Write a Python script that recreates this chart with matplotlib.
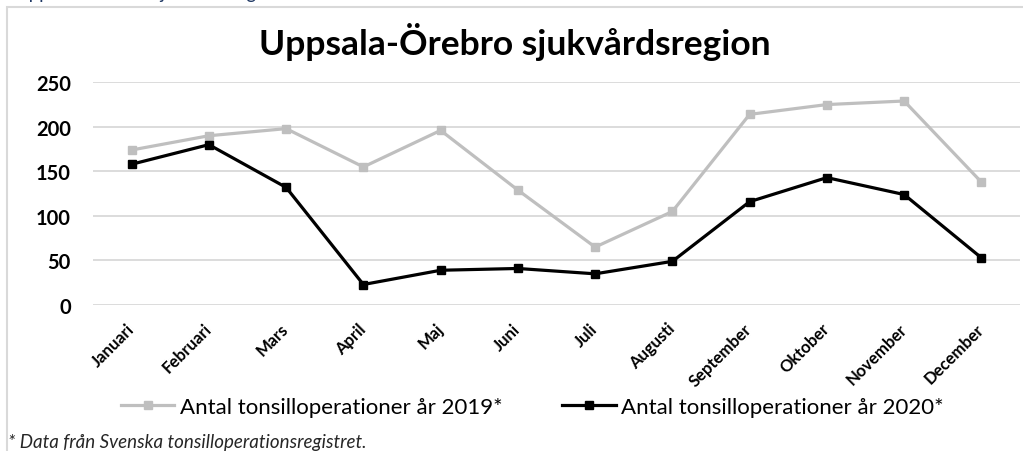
import matplotlib.pyplot as plt
from matplotlib.patches import Rectangle

plt.rcParams['font.family'] = ['Lato', 'DejaVu Sans']

# Monthly counts
months = ['Januari', 'Februari', 'Mars', 'April', 'Maj', 'Juni', 'Juli',
          'Augusti', 'September', 'Oktober', 'November', 'December']
ops_2019 = [174, 190, 198, 155, 196, 129, 65, 105, 214, 225, 229, 138]
ops_2020 = [158, 180, 132, 23, 39, 41, 35, 49, 116, 143, 124, 53]
y_ticks = [0, 50, 100, 150, 200, 250]

fig = plt.figure(figsize=(10.23, 4.52), dpi=100)

# chart frame border (runs off the right and bottom edge)
fig.patches.append(Rectangle((7 / 1023, -0.1), 1.2, 1 - 8 / 452 + 0.1,
                             transform=fig.transFigure, fill=False,
                             edgecolor='#d9d9d9', linewidth=1.5))

# clipped heading above the chart
fig.text(15 / 1023, 1 + 1 / 452, 'Uppsala-Örebro sjukvårdsregion', color='#1f3864',
         fontsize=13.5, va='baseline', ha='left')

ax = fig.add_axes([93 / 1023, 1 - 306 / 452, 927 / 1023, 222.7 / 452])
x = range(len(months))
ax.plot(x, ops_2019, color='#bfbfbf', linewidth=2.3, marker='s', markersize=5.5,
        label='Antal tonsilloperationer år 2019*')
ax.plot(x, ops_2020, color='black', linewidth=2.3, marker='s', markersize=5.5,
        label='Antal tonsilloperationer år 2020*')

ax.set_xlim(-0.5, len(months) - 0.5)
ax.set_ylim(0, 250)
ax.set_yticks(y_ticks)
ax.set_yticklabels([str(v) for v in y_ticks], fontsize=14.5, fontweight='bold')
ax.set_xticks(list(x))
ax.set_xticklabels(months, rotation=45, ha='right', va='center', rotation_mode='anchor',
                   fontsize=12, fontweight='bold')
ax.tick_params(axis='both', length=0)
ax.tick_params(axis='y', pad=16)
ax.tick_params(axis='x', pad=15)
ax.grid(axis='y', color='#d9d9d9', linewidth=1.3)
ax.set_axisbelow(True)
for s in ax.spines.values():
    s.set_visible(False)

fig.text(515 / 1023, 1 - 42 / 452, 'Uppsala-Örebro sjukvårdsregion', fontsize=25.5,
         fontweight='bold', ha='center', va='center')

ax.legend(loc='center', bbox_to_anchor=(0.474, -(408 - 306) / 222.7),
          bbox_transform=ax.transAxes, ncol=2, frameon=False, fontsize=16,
          handlelength=2.4, handletextpad=0.25, columnspacing=2.7)

fig.text(8 / 1023, 1 - 443 / 452, '* Data från Svenska tonsilloperationsregistret.',
         fontsize=13.5, style='italic', ha='left', va='center', color='#262626')

fig.savefig('out.png', dpi=100)
